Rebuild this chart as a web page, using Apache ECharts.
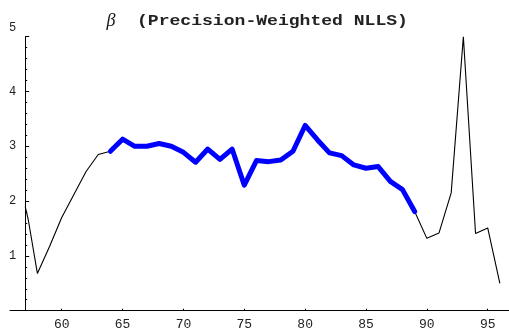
<!DOCTYPE html>
<html>
<head>
<meta charset="utf-8">
<script src="https://cdn.jsdelivr.net/npm/echarts@6/dist/echarts.min.js"></script>
<style>
  html, body { margin: 0; padding: 0; background: #fff; }
  #chart { width: 509px; height: 334px; }
</style>
</head>
<body>
<div id="chart"></div>
<script>
// Estimated beta by year
const years = [57, 57.25, 58, 59, 60, 61, 62, 63,
  64, 65, 66, 67, 68, 69, 70, 71, 72, 73, 74, 75, 76, 77, 78, 79,
  80, 81, 82, 83, 84, 85, 86, 87, 88, 89,
  90, 91, 92, 93, 94, 95, 96];
const beta = [1.90, 1.66, 0.68, 1.17, 1.70, 2.12, 2.54, 2.85,
  2.91, 3.13, 3.00, 3.00, 3.05, 3.00, 2.89, 2.71, 2.95, 2.76, 2.95, 2.29, 2.74, 2.72, 2.75, 2.91,
  3.38, 3.12, 2.88, 2.83, 2.66, 2.60, 2.63, 2.36, 2.21, 1.81,
  1.32, 1.42, 2.15, 5.00, 1.41, 1.51, 0.50];
// Years covered by the precision-weighted fit (highlighted)
const weightedStart = 64;
const weightedEnd = 89;
// Axis ticks
const xTicks = [60, 65, 70, 75, 80, 85, 90, 95];
const yTicks = [0, 1, 2, 3, 4, 5];

const allPts = years.map((y, i) => [y, beta[i]]);
const weightedPts = allPts.filter(p => p[0] >= weightedStart && p[0] <= weightedEnd);

const xMin = 55.75, xMax = 96.75, yAxisAt = 57;
const gridLeft = 10, gridRight = 0;
const plotW = 509 - gridLeft - gridRight;
const yAxisShift = (yAxisAt - xMin) / (xMax - xMin) * plotW;

const labelFont = '"Liberation Mono", monospace';

const chart = echarts.init(document.getElementById('chart'), null, { renderer: 'canvas' });
chart.setOption({
  animation: false,
  backgroundColor: '#ffffff',
  grid: { left: gridLeft, right: gridRight, top: 36.7, bottom: 23.3 },
  xAxis: {
    type: 'value',
    min: xMin,
    max: xMax,
    splitLine: { show: false },
    axisLine: { show: true, onZero: false, lineStyle: { color: '#000', width: 1 } },
    axisTick: { show: true, inside: true, length: 2, customValues: xTicks, lineStyle: { color: '#000' } },
    axisLabel: {
      customValues: xTicks,
      color: '#222', fontFamily: labelFont, fontSize: 13, margin: 7
    }
  },
  yAxis: {
    type: 'value',
    min: 0,
    max: 5,
    interval: 1,
    offset: -yAxisShift,
    splitLine: { show: false },
    axisLine: { show: true, onZero: false, lineStyle: { color: '#000', width: 1 } },
    axisTick: { show: true, inside: true, length: 4, lineStyle: { color: '#000' } },
    minorTick: { show: true, splitNumber: 5, length: 2, lineStyle: { color: '#000' } },
    axisLabel: {
      color: '#222', fontFamily: labelFont, fontSize: 12, margin: 9,
      formatter: v => v === 0 ? '' : (v === 5 ? '{top|5}' : String(v)),
      rich: { top: { color: '#222', fontFamily: labelFont, fontSize: 12, padding: [0, 0, 17, 0] } }
    }
  },
  graphic: [
    {
      type: 'text', x: 111, y: 21,
      style: { text: 'β', font: 'italic 18px "Liberation Serif", serif', fill: '#111', align: 'center', verticalAlign: 'middle' }
    },
    {
      type: 'text', x: 137, y: 21, scaleX: 1.29,
      style: { text: '(Precision-Weighted NLLS)', font: 'bold 14px "Liberation Mono", monospace', fill: '#222', align: 'left', verticalAlign: 'middle' }
    }
  ],
  series: [
    {
      type: 'line', data: allPts, showSymbol: false, clip: false,
      lineStyle: { color: '#000', width: 1.1 }, z: 2
    },
    {
      type: 'line', data: weightedPts, showSymbol: false, clip: false,
      lineStyle: { color: '#0000ff', width: 5, join: 'round', cap: 'round' }, z: 3
    }
  ]
});
</script>
</body>
</html>
